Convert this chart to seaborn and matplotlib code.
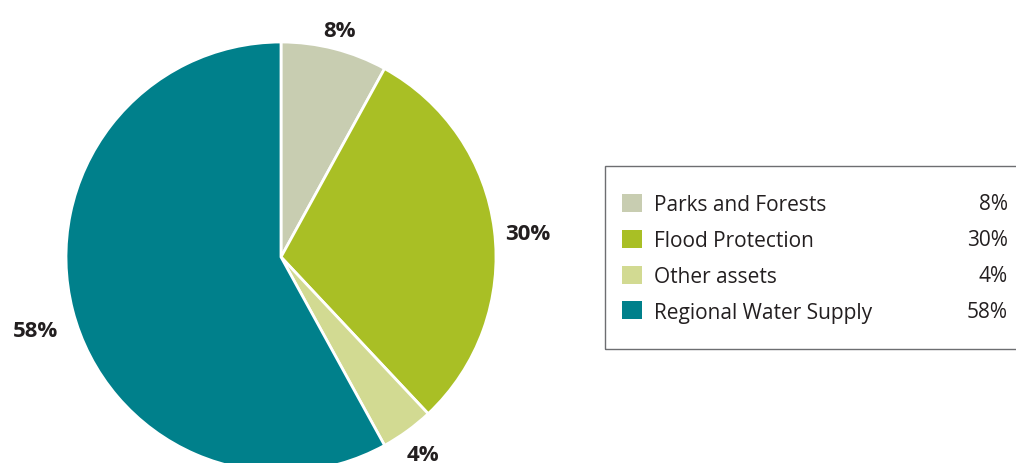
import matplotlib
matplotlib.use("Agg")
import matplotlib.pyplot as plt
from matplotlib.patches import Rectangle, Patch
import numpy as np
import seaborn as sns

# data
categories = ["Parks and Forests", "Flood Protection", "Other assets", "Regional Water Supply"]
shares = [8, 30, 4, 58]
share_labels = ["8%", "30%", "4%", "58%"]
colors = ["#C8CDB1", "#A9BF25", "#D2DA92", "#00808B"]
label_dist = [1.10, 1.155, 1.12, 1.19]
label_turn = [0, -1.2, 0, 1.6]  # small nudges in degrees off the slice middle

sns.set_theme(style="white")
plt.rcParams["font.family"] = ["Open Sans", "DejaVu Sans"]

W, H, DPI = 1016, 464, 100
fig = plt.figure(figsize=(W / DPI, H / DPI), dpi=DPI)

# pie axes spans the whole figure; 1 data unit = pie radius in pixels
R, CX, CY = 215, 281, 258
ax = fig.add_axes([0, 0, 1, 1])
wedges, texts = ax.pie(
    shares, colors=colors, labels=share_labels, startangle=90, counterclock=False,
    radius=1, wedgeprops=dict(edgecolor="white", linewidth=2),
    textprops=dict(fontsize=16, fontweight="bold", color="#231F20"),
)
for w, t, d, turn in zip(wedges, texts, label_dist, label_turn):
    mid = np.deg2rad((w.theta1 + w.theta2) / 2 + turn)
    t.set_position((d * np.cos(mid), d * np.sin(mid)))
    t.set_ha("center")
    t.set_va("center_baseline")
ax.set_aspect("auto")
ax.set_xlim(-CX / R, (W - CX) / R)
ax.set_ylim(-(H - CY) / R, CY / R)
ax.axis("off")

def fx(px):
    return px / W

def fy(py):
    return 1 - py / H

# legend frame (runs off the right edge like the reference)
fig.patches.append(Rectangle((fx(605), fy(350)), fx(430), (350 - 167) / H,
                             transform=fig.transFigure, fill=False,
                             edgecolor="#6d6e71", linewidth=1.0))

handles = [Patch(facecolor=c, edgecolor="none") for c in colors]
leg = fig.legend(handles, categories, loc="upper left",
                 bbox_to_anchor=(fx(622), fy(195)), frameon=False,
                 fontsize=15, handlelength=0.96, handleheight=0.96,
                 handletextpad=0.58, labelspacing=0.70, borderpad=0,
                 borderaxespad=0)
for t in leg.get_texts():
    t.set_color("#231F20")

row_y = [205, 241, 277, 313]
for lab, y in zip(share_labels, row_y):
    fig.text(fx(1008), fy(y), lab, ha="right", va="center", fontsize=15, color="#231F20")

fig.savefig("out.png", dpi=DPI)
